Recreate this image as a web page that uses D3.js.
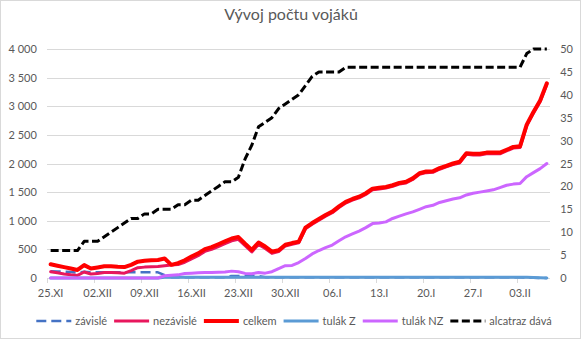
<!DOCTYPE html>
<html>
<head>
<meta charset="utf-8">
<script src="https://cdn.jsdelivr.net/npm/d3@7"></script>
<style>
  html, body { margin: 0; padding: 0; background: #fff; }
  svg { display: block; font-family: Lato, "Open Sans", sans-serif; }
</style>
</head>
<body>
<svg id="chart" width="582" height="340"></svg>
<script>
// ---------- DATA ----------
const title = "Vývoj počtu vojáků";

const categories = [
  "25.XI","26.XI","27.XI","28.XI","29.XI","30.XI",
  "01.XII","02.XII","03.XII","04.XII","05.XII","06.XII","07.XII","08.XII","09.XII","10.XII",
  "11.XII","12.XII","13.XII","14.XII","15.XII","16.XII","17.XII","18.XII","19.XII","20.XII",
  "21.XII","22.XII","23.XII","24.XII","25.XII","26.XII","27.XII","28.XII","29.XII","30.XII","31.XII",
  "01.I","02.I","03.I","04.I","05.I","06.I","07.I","08.I","09.I","10.I",
  "11.I","12.I","13.I","14.I","15.I","16.I","17.I","18.I","19.I","20.I",
  "21.I","22.I","23.I","24.I","25.I","26.I","27.I","28.I","29.I","30.I","31.I",
  "01.II","02.II","03.II","04.II","05.II","06.II","07.II"
];

// categories that carry a visible label on the x axis
const xTickLabels = ["25.XI","02.XII","09.XII","16.XII","23.XII","30.XII","06.I","13.I","20.I","27.I","03.II"];

const leftTicks  = [0, 500, 1000, 1500, 2000, 2500, 3000, 3500, 4000];
const rightTicks = [0, 5, 10, 15, 20, 25, 30, 35, 40, 45, 50];

const zavisle = [
  120,115,110,105,95,110,100,100,100,100,100,100,100,100,100,100,100,50,15,15,
  15,15,15,15,15,15,15,35,35,35,35,35,15,15,15,15,15,15,15,15,
  15,15,15,15,15,15,15,15,15,15,15,15,15,15,15,15,15,15,15,15,
  15,15,15,15,15,15,15,15,15,15,12,8,4,0,0
];

const nezavisle = [
  110,90,70,55,45,105,70,80,95,95,90,85,130,180,190,195,200,215,225,235,
  275,335,390,465,500,550,600,650,675,565,455,585,515,430,460,560,590,615,860,940,
  1010,1080,1140,1230,1310,1360,1400,1460,1540,1555,1570,1600,1640,1660,1720,1810,1840,1845,1900,1940,
  1980,2010,2160,2150,2150,2170,2170,2170,2220,2270,2280,2660,2880,3080,3380
];

const celkem = [
  240,215,190,165,140,225,165,185,205,205,195,190,230,285,300,310,315,340,230,260,
  310,375,430,505,540,590,640,690,715,600,490,620,550,460,485,580,610,635,880,960,
  1030,1100,1160,1250,1330,1380,1420,1480,1560,1575,1590,1620,1660,1680,1740,1830,1860,1865,1920,1960,
  2000,2030,2180,2170,2170,2190,2190,2190,2240,2290,2300,2680,2900,3100,3400
];

const tulakZ = [
  0,0,0,0,0,0,0,0,0,0,0,0,0,0,0,0,0,15,15,15,
  15,15,15,15,15,15,15,15,15,15,15,15,15,15,15,15,15,15,15,15,
  15,15,15,15,15,15,15,15,15,15,15,15,15,15,15,15,15,15,15,15,
  15,15,15,15,15,15,15,15,15,15,15,11,7,3,0
];

const tulakNZ = [
  0,0,0,0,0,0,0,0,0,0,0,0,0,0,0,0,0,40,50,55,
  80,85,90,95,95,100,105,120,110,80,75,95,85,110,165,215,220,270,340,420,
  480,530,575,650,720,770,820,880,950,960,980,1040,1080,1120,1155,1200,1245,1270,1320,1350,
  1380,1400,1450,1480,1500,1520,1540,1580,1620,1640,1650,1770,1840,1910,2000
];

// secondary axis
const alcatraz = [
  6,6,6,6,6,8,8,8,9,10,11,12,13,13,14,14,15,15,15,16,
  16,17,17,18,19,20,21,21,22,26,29,33,34,35,37,38,39,40,42,44,
  45,45,45,45,46,46,46,46,46,46,46,46,46,46,46,46,46,46,46,46,
  46,46,46,46,46,46,46,46,46,46,46,49,50,50,50
];

const seriesNames = ["závislé","nezávislé","celkem","tulák Z","tulák NZ","alcatraz dává"];

// ---------- STYLE ----------
const styles = {
  "závislé":       {color:"#4472C4", width:2.5, dash:"10,5", axis:"left"},
  "nezávislé":     {color:"#E8175D", width:3,   dash:null,   axis:"left"},
  "celkem":        {color:"#FF0000", width:4,   dash:null,   axis:"left"},
  "tulák Z":       {color:"#5B9BD5", width:3,   dash:null,   axis:"left"},
  "tulák NZ":      {color:"#CC66FF", width:3,   dash:null,   axis:"left"},
  "alcatraz dává": {color:"#000000", width:3,   dash:"8,3.5",  axis:"right"}
};
const seriesData = {
  "závislé": zavisle, "nezávislé": nezavisle, "celkem": celkem,
  "tulák Z": tulakZ, "tulák NZ": tulakNZ, "alcatraz dává": alcatraz
};

const W = 582, H = 340;
const plot = {left: 47.3, right: 550.2, top: 49, bottom: 278};
const textColor = "#595959";
const gridColor = "#D9D9D9";
const smallFont = "11px";

const svg = d3.select("#chart");

svg.append("rect").attr("x",0).attr("y",0).attr("width",W).attr("height",H).attr("fill","#fff");
svg.append("rect").attr("x",0.5).attr("y",0.5).attr("width",580).attr("height",338)
  .attr("fill","none").attr("stroke",gridColor).attr("stroke-width",1);

// scales
const x = d3.scaleBand().domain(categories).range([plot.left, plot.right]).padding(0);
const cx = d => x(d) + x.bandwidth()/2;
const yL = d3.scaleLinear().domain([0,4000]).range([plot.bottom, plot.top]);
const yR = d3.scaleLinear().domain([0,50]).range([plot.bottom, plot.top]);

const fmt = d3.formatLocale({decimal:",", thousands:"\u00a0", grouping:[3], currency:["",""]}).format(",d");

// gridlines
const grid = svg.append("g")
  .attr("transform",`translate(${plot.left},0)`)
  .call(d3.axisLeft(yL).tickValues(leftTicks.filter(v=>v>0)).tickSize(-(plot.right-plot.left)).tickFormat(""));
grid.select(".domain").remove();
grid.selectAll("line").attr("stroke",gridColor).attr("shape-rendering","crispEdges");

// left axis labels
const gL = svg.append("g")
  .attr("transform",`translate(${plot.left},0)`)
  .call(d3.axisLeft(yL).tickValues(leftTicks).tickSize(0).tickPadding(10.5).tickFormat(fmt));
gL.select(".domain").remove();
gL.selectAll("text").attr("fill",textColor).style("font-size",smallFont).style("font-family","Lato, sans-serif");

// right axis labels
const gR = svg.append("g")
  .attr("transform",`translate(${plot.right},0)`)
  .call(d3.axisRight(yR).tickValues(rightTicks).tickSize(0).tickPadding(10));
gR.select(".domain").remove();
gR.selectAll("text").attr("fill",textColor).style("font-size",smallFont).style("font-family","Lato, sans-serif");

// x axis line
svg.append("line")
  .attr("x1",plot.left).attr("x2",plot.right)
  .attr("y1",yL(0)).attr("y2",yL(0))
  .attr("stroke",gridColor).attr("shape-rendering","crispEdges");

// tick marks at category boundaries for labelled categories
svg.append("g").selectAll("line").data(xTickLabels).join("line")
  .attr("x1",d=>Math.round(x(d))+0.5).attr("x2",d=>Math.round(x(d))+0.5)
  .attr("y1",yL(0)).attr("y2",yL(0)+5)
  .attr("stroke",gridColor);

// x labels
const gX = svg.append("g")
  .attr("transform",`translate(0,${plot.bottom})`)
  .call(d3.axisBottom(x).tickValues(xTickLabels).tickSize(0).tickPadding(11));
gX.select(".domain").remove();
gX.selectAll("text").attr("fill",textColor).style("font-size",smallFont).style("font-family","Lato, sans-serif");

// lines
const linesG = svg.append("g");
seriesNames.forEach(name => {
  const st = styles[name];
  const ys = st.axis === "left" ? yL : yR;
  const line = d3.line().x((d,i)=>cx(categories[i])).y(d=>ys(d));
  linesG.append("path")
    .datum(seriesData[name])
    .attr("d", line)
    .attr("fill","none")
    .attr("stroke", st.color)
    .attr("stroke-width", st.width)
    .attr("stroke-linejoin","round")
    .attr("stroke-linecap", st.dash ? "butt" : "round")
    .attr("stroke-dasharray", st.dash);
});

// title
svg.append("text")
  .attr("x", W/2).attr("y", 19.5)
  .attr("text-anchor","middle")
  .attr("fill", textColor)
  .style("font-size","16px")
  .text(title);

// legend
const legendY = 321;
const lineLen = 35, lineGap = 4, itemGap = 7;
const lg = svg.append("g");
const items = seriesNames.map(name => {
  const g = lg.append("g");
  const st = styles[name];
  g.append("line").attr("x1",0).attr("x2",lineLen).attr("y1",legendY).attr("y2",legendY)
    .attr("stroke",st.color).attr("stroke-width",st.width).attr("stroke-dasharray",st.dash);
  const t = g.append("text").attr("x",lineLen+lineGap).attr("y",legendY).attr("dy","0.35em")
    .attr("fill",textColor).style("font-size",smallFont).text(name);
  return {g, w: lineLen + lineGap + t.node().getComputedTextLength()};
});
const total = d3.sum(items, d=>d.w) + itemGap*(items.length-1);
let pos = 294 - total/2;
items.forEach(it => { it.g.attr("transform",`translate(${pos},0)`); pos += it.w + itemGap; });
</script>
</body>
</html>
